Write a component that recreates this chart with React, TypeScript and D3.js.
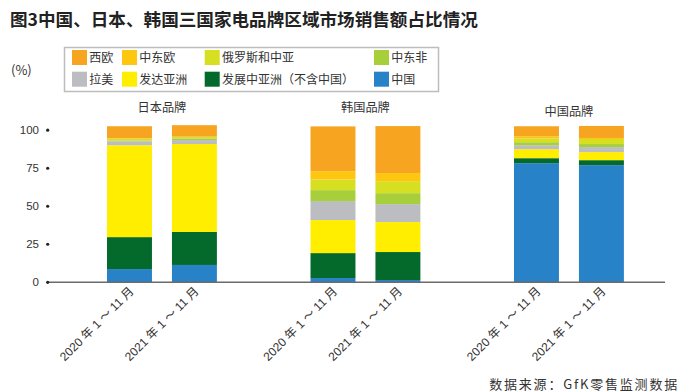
import React from 'react';
import * as d3 from 'd3';

const brands = ['日本品牌', '韩国品牌', '中国品牌'];
const years = ['2020 年 1 ～ 11 月', '2021 年 1 ～ 11 月'];

// bottom to top, bar order: JP20, JP21, KR20, KR21, CN20, CN21
const regions = ['中国', '发展中亚洲', '发达亚洲', '拉美', '中东非', '俄罗斯和中亚', '中东欧', '西欧'];
const china = [8.7, 11.4, 2.8, 1.5, 78.3, 77.0];
const devAsia = [21.0, 21.7, 16.4, 18.4, 3.3, 3.3];
const advAsia = [60.4, 57.8, 21.7, 19.7, 5.9, 5.3];
const latam = [2.6, 2.6, 12.5, 11.8, 2.6, 3.3];
const mea = [0.5, 1.1, 7.2, 7.2, 2.0, 2.0];
const russia = [1.2, 0.9, 7.0, 7.9, 2.6, 3.3];
const cee = [0.3, 0.3, 5.4, 5.3, 1.3, 0.7];
const westEu = [7.9, 7.5, 29.5, 30.9, 6.6, 7.9];

const yTicks = [0, 25, 50, 75, 100];

const colors: Record<string, string> = {
  西欧: '#F7A520',
  中东欧: '#FFC60F',
  俄罗斯和中亚: '#D7DF23',
  中东非: '#A7CF3C',
  拉美: '#BCBDC0',
  发达亚洲: '#FFEE00',
  发展中亚洲: '#046A2C',
  中国: '#2882C8',
};

// legend rows as shown
const legendRows = [
  [['西欧', '西欧'], ['中东欧', '中东欧'], ['俄罗斯和中亚', '俄罗斯和中亚'], ['中东非', '中东非']],
  [['拉美', '拉美'], ['发达亚洲', '发达亚洲'], ['发展中亚洲', '发展中亚洲（不含中国）'], ['中国', '中国']],
];
const legendX = [72, 122, 204.7, 374];

const W = 697;
const H = 392;
const cjk = '"Noto Sans CJK SC", "Noto Sans", sans-serif';
const latin = '"Liberation Sans", "Noto Sans CJK SC", sans-serif';

export default function App() {
  const seriesData = [china, devAsia, advAsia, latam, mea, russia, cee, westEu];
  const rows = brands.flatMap((b, bi) =>
    years.map((yr, yi) => {
      const row: any = { brand: b, year: yr };
      regions.forEach((r, ri) => (row[r] = seriesData[ri][bi * 2 + yi]));
      return row;
    })
  );
  const stacked = d3.stack<any>().keys(regions)(rows);

  const y = d3.scaleLinear().domain([0, 100]).range([282.3, 130.2]);
  const x0 = d3.scaleBand().domain(brands).range([60.2, 670.7]).paddingInner(0.46).paddingOuter(0.23);
  const x1 = d3.scaleBand().domain(years).range([0, x0.bandwidth()]).paddingInner(0.3077);
  const barX = (d: any) => (x0(d.brand) as number) + (x1(d.year) as number);

  return (
    <svg width={W} height={H} style={{ position: 'absolute', left: 0, top: 0, background: '#fff' }}>
      <text x={10} y={26} fontFamily={cjk} fontWeight={700} fontSize={17.6} fill="#222">
        图3中国、日本、韩国三国家电品牌区域市场销售额占比情况
      </text>

      <text x={11} y={75} fontFamily={cjk} fontSize={13} fill="#333">
        (%)
      </text>

      <rect x={64.5} y={47.5} width={374} height={44} fill="#fff" stroke="#bdbdbd" strokeWidth={1.5} />
      {legendRows.map((row, ri) =>
        row.map(([key, label], ci) => (
          <g key={key} transform={`translate(${legendX[ci]},${50 + ri * 21.7})`}>
            <rect width={15} height={15} fill={colors[key]} />
            <text x={17.3} y={12} fontFamily={cjk} fontSize={12} fill="#333">
              {label}
            </text>
          </g>
        ))
      )}

      {brands.map((b, i) => (
        <text
          key={b}
          x={(x0(b) as number) + x0.bandwidth() / 2}
          y={i === 2 ? 116 : 111.5}
          textAnchor="middle"
          fontFamily={cjk}
          fontSize={12.2}
          fill="#333"
        >
          {b}
        </text>
      ))}

      {stacked.map((s) => (
        <g key={s.key} fill={colors[s.key]}>
          {s.map((d, i) => (
            <rect
              key={i}
              x={barX(d.data)}
              y={y(d[1])}
              width={x1.bandwidth()}
              height={y(d[0]) - y(d[1])}
            />
          ))}
        </g>
      ))}

      <line x1={48} x2={665} y1={y(0)} y2={y(0)} stroke="#6b6b6b" strokeWidth={1.6} />
      {yTicks.map((t) => (
        <g key={t}>
          <circle cx={47.7} cy={y(t)} r={1.6} fill="#222" />
          <text x={39} y={y(t) + 4} textAnchor="end" fontFamily={latin} fontSize={11.5} fill="#333">
            {t}
          </text>
        </g>
      ))}

      {rows.map((d, i) => {
        const cx = barX(d) + x1.bandwidth() / 2 + 5;
        return (
          <text
            key={i}
            transform={`translate(${cx},${292}) rotate(-45)`}
            textAnchor="end"
            fontFamily={latin}
            fontSize={12}
            fill="#333"
          >
            {d.year}
          </text>
        );
      })}

      <text x={679} y={389} textAnchor="end" fontFamily={cjk} fontSize={13} letterSpacing={1.8} fill="#333">
        数据来源：GfK零售监测数据
      </text>
    </svg>
  );
}
